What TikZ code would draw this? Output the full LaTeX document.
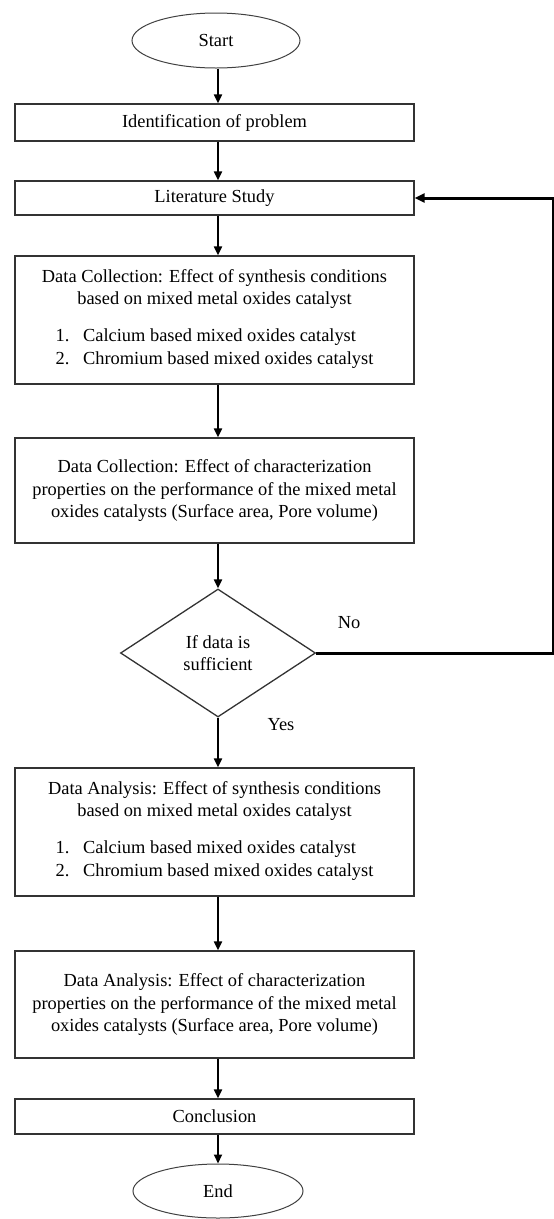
\documentclass[tikz,border=0pt]{standalone}
\usepackage{fontspec}
\setmainfont{Liberation Serif}
\newfontfamily\flowfont{Liberation Serif}
\usetikzlibrary{arrows.meta, shapes.geometric, calc}

\tikzset{
  termnode/.style={ellipse, draw=black!75, line width=1pt, minimum width=168, minimum height=55, inner sep=0pt},
  procbox/.style={rectangle, draw=black!80, line width=1.3pt, minimum width=399, inner sep=0pt, align=center},
  decnode/.style={diamond, draw=black!80, line width=1.3pt, minimum width=195, minimum height=128, inner sep=0pt, align=center},
  flow/.style={line width=2pt, -{Triangle[length=9pt, width=8pt]}},
  feedback/.style={line width=3pt, -{Triangle[length=10pt, width=9pt]}}
}

\newcommand{\oxlist}{%
  \begin{tabular}[t]{@{}p{27.5pt}@{}l@{}}
    1. & Calcium based mixed oxides catalyst\\
    2. & Chromium based mixed oxides catalyst
  \end{tabular}}

\begin{document}
\begin{tikzpicture}[x=1pt, y=-1pt, font=\flowfont\fontsize{18.4}{22.7}\selectfont]
    \useasboundingbox (0,0) rectangle (554,1219);
    \coordinate (axis) at (218,0);
    \coordinate (back) at (553,0);

    \node[termnode] (start) at (216,40.5) {Start};
    \node[procbox, minimum height=37] (ident) at (214.5,122.5) {Identification of problem};
    \node[procbox, minimum height=34] (litStudy) at (214.5,198) {Literature Study};
    \node[procbox, minimum height=128] (colSyn) at (214.5,320) {Data Collection: Effect of synthesis conditions\\based on mixed metal oxides catalyst\\[14pt]\oxlist};
    \node[procbox, minimum height=105] (colChar) at (214.5,490.5) {Data Collection: Effect of characterization\\properties on the performance of the mixed metal\\oxides catalysts (Surface area, Pore volume)};
    \node[decnode] (suffic) at (218,653) {If data is\\sufficient};
    \node[procbox, minimum height=128] (anaSyn) at (214.5,832) {Data Analysis: Effect of synthesis conditions\\based on mixed metal oxides catalyst\\[14pt]\oxlist};
    \node[procbox, minimum height=107] (anaChar) at (214.5,1004.5) {Data Analysis: Effect of characterization\\properties on the performance of the mixed metal\\oxides catalysts (Surface area, Pore volume)};
    \node[procbox, minimum height=35] (concl) at (214.5,1116.5) {Conclusion};
    \node[termnode, minimum width=170, minimum height=54] (finish) at (218,1191) {End};

    \node (noLbl) at (349,623) {No};
    \node (yesLbl) at (281,725) {Yes};

    % main flow
    \draw[flow] (start.south -| axis) -- (ident.north -| axis);
    \draw[flow] (ident.south -| axis) -- (litStudy.north -| axis);
    \draw[flow] (litStudy.south -| axis) -- (colSyn.north -| axis);
    \draw[flow] (colSyn.south -| axis) -- (colChar.north -| axis);
    \draw[flow] (colChar.south -| axis) -- (suffic.north);
    \draw[flow] (suffic.south) -- (anaSyn.north -| axis);
    \draw[flow] (anaSyn.south -| axis) -- (anaChar.north -| axis);
    \draw[flow] (anaChar.south -| axis) -- (concl.north -| axis);
    \draw[flow] (concl.south -| axis) -- (finish.north);

    % back to literature
    \draw[feedback] (suffic.east) -- (suffic.east -| back) |- (litStudy.east);
\end{tikzpicture}
\end{document}
